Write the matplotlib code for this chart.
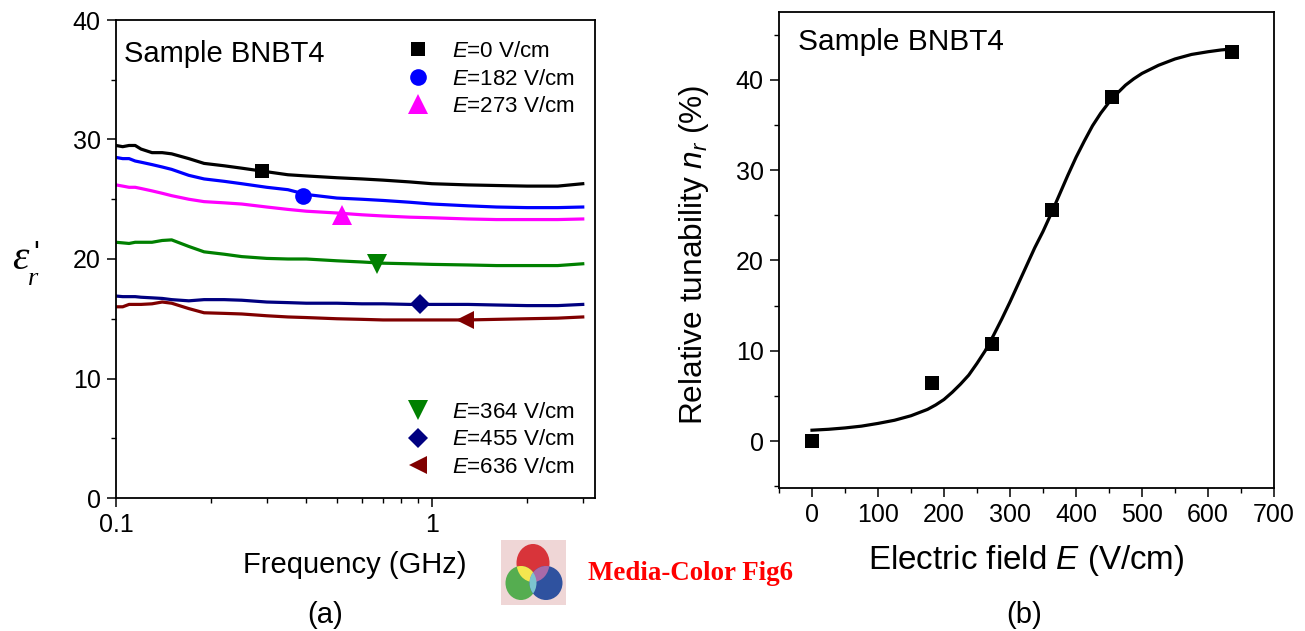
"""BNBT4 permittivity vs frequency (a) and relative tunability vs field (b)."""
import matplotlib
matplotlib.use("Agg")
import matplotlib.pyplot as plt
from matplotlib.lines import Line2D
from matplotlib.patches import Ellipse
from matplotlib.ticker import NullFormatter

W, H = 1305, 631
plt.rcParams["font.family"] = ["Liberation Sans", "DejaVu Sans"]
plt.rcParams["mathtext.fontset"] = "custom"
plt.rcParams["mathtext.rm"] = "Liberation Sans"
plt.rcParams["mathtext.it"] = "Liberation Sans:italic"
plt.rcParams["mathtext.bf"] = "Liberation Sans:bold"

freq = [0.1, 0.105, 0.11, 0.115, 0.12, 0.13, 0.14, 0.15, 0.17, 0.19, 0.22, 0.25, 0.3,
        0.35, 0.4, 0.5, 0.6, 0.7, 0.85, 1, 1.3, 1.6, 2, 2.5, 3]
eps_0 = [29.5, 29.4, 29.5, 29.5, 29.2, 28.9, 28.9, 28.8, 28.4, 28.0, 27.8, 27.6, 27.3,
         27.05, 26.95, 26.8, 26.7, 26.6, 26.45, 26.3, 26.2, 26.15, 26.1, 26.1, 26.3]
eps_182 = [28.5, 28.4, 28.4, 28.2, 28.1, 27.9, 27.7, 27.5, 27.0, 26.7, 26.5, 26.3, 26.0,
           25.8, 25.4, 25.1, 25.0, 24.9, 24.75, 24.6, 24.45, 24.35, 24.3, 24.3, 24.35]
eps_273 = [26.2, 26.1, 26.0, 26.0, 25.9, 25.7, 25.5, 25.3, 25.0, 24.8, 24.7, 24.6, 24.35,
           24.15, 24.0, 23.85, 23.7, 23.6, 23.5, 23.45, 23.35, 23.3, 23.3, 23.3, 23.35]
eps_364 = [21.4, 21.35, 21.3, 21.4, 21.4, 21.4, 21.55, 21.6, 21.05, 20.6, 20.4, 20.2, 20.05,
           20.0, 20.0, 19.85, 19.75, 19.65, 19.6, 19.55, 19.5, 19.45, 19.45, 19.45, 19.6]
eps_455 = [16.9, 16.85, 16.85, 16.85, 16.8, 16.75, 16.7, 16.6, 16.5, 16.6, 16.6, 16.55, 16.4,
           16.35, 16.3, 16.3, 16.25, 16.25, 16.2, 16.2, 16.2, 16.15, 16.1, 16.1, 16.2]
eps_636 = [16.0, 16.0, 16.2, 16.2, 16.2, 16.25, 16.4, 16.3, 15.85, 15.5, 15.45, 15.4, 15.25,
           15.15, 15.1, 15.0, 14.95, 14.9, 14.9, 14.9, 14.9, 14.95, 15.0, 15.05, 15.15]
marker_freq = [0.29, 0.39, 0.52, 0.67, 0.915, 1.27]
marker_eps = [27.4, 25.3, 23.7, 19.6, 16.2, 14.9]
series_labels = ["0", "182", "273", "364", "455", "636"]

field = [0, 182, 273, 364, 455, 636]
tunability = [0, 6.4, 10.7, 25.6, 38.1, 43.1]
fit_field = [0, 25, 50, 75, 100, 125, 150, 175, 187.5, 200, 212.5, 225, 237.5, 250, 262.5,
             275, 287.5, 300, 312.5, 325, 337.5, 350, 362.5, 375, 387.5, 400, 412.5, 425,
             437.5, 450, 462.5, 475, 487.5, 500, 525, 550, 575, 600, 620, 636]
fit_tun = [1.2, 1.3, 1.45, 1.65, 1.95, 2.3, 2.8, 3.5, 4.0, 4.6, 5.4, 6.3, 7.3, 8.6, 10.0,
           11.7, 13.5, 15.4, 17.4, 19.4, 21.4, 23.2, 25.2, 27.3, 29.4, 31.4, 33.2, 34.9,
           36.3, 37.5, 38.5, 39.4, 40.1, 40.7, 41.6, 42.3, 42.8, 43.1, 43.3, 43.4]

colors = ["black", "#0000ff", "#ff00ff", "#008000", "#000080", "#800000"]
markers = ["s", "o", "^", "v", "D", "<"]
sizes = [10, 12, 14, 14, 9.7, 13]


def ax_box(left, top, right, bottom):
    return [left / W, 1 - bottom / H, (right - left) / W, (bottom - top) / H]


def label(x, y, s, **kw):
    kw.setdefault("ha", "center")
    kw.setdefault("va", "center")
    return fig.text(x / W, 1 - y / H, s, **kw)


def style(ax, size):
    for s in ax.spines.values():
        s.set_linewidth(1.3)
    ax.tick_params(which="major", length=6.5, width=1.1, labelsize=size, pad=4.5)
    ax.tick_params(which="minor", length=3.5, width=1.0)


fig = plt.figure(figsize=(W / 100, H / 100), dpi=100)

# (a)
ax = fig.add_axes(ax_box(116, 20, 595, 498))
all_eps = [eps_0, eps_182, eps_273, eps_364, eps_455, eps_636]
for vals, c in zip(all_eps, colors):
    ax.plot(freq, vals, color=c, lw=2.3)
for i in range(6):
    ax.plot(marker_freq[i], marker_eps[i], marker=markers[i], color=colors[i],
            ms=sizes[i], ls="none", mew=0, zorder=5)
ax.set_xscale("log")
ax.set_xlim(0.1, 3.28)
ax.set_ylim(0, 40)
ax.set_yticks([0, 10, 20, 30, 40])
ax.set_yticks([5, 15, 25, 35], minor=True)
ax.set_xticks([0.1, 1])
ax.set_xticklabels(["0.1", "1"])
ax.xaxis.set_minor_formatter(NullFormatter())
style(ax, 18)

handles = [Line2D([], [], marker=markers[i], color=colors[i], ms=sizes[i], ls="none", mew=0,
                  label=rf"$\mathit{{E}}$=${series_labels[i]}$ V/cm") for i in range(6)]
leg_kw = dict(frameon=False, fontsize=16.1, labelspacing=0.29, handlelength=1.6,
              handletextpad=0.72, borderpad=0, borderaxespad=0)
leg_top = ax.legend(handles=handles[:3], loc="upper left", bbox_to_anchor=(0.593, 0.956), **leg_kw)
ax.add_artist(leg_top)
ax.legend(handles=handles[3:], loc="lower left", bbox_to_anchor=(0.593, 0.042), **leg_kw)

label(124, 54, "Sample BNBT4", fontsize=21, ha="left")
label(20, 259, "\u03b5", fontsize=30, style="italic", family="Liberation Serif")
label(33, 279, "r", fontsize=19, style="italic", family="Liberation Serif")
label(36, 255, "'", fontsize=22)
label(355, 565, "Frequency (GHz)", fontsize=21)
label(325, 615, "(a)", fontsize=21)

# colour wheel badge
logo = fig.add_axes(ax_box(501, 540, 566, 605))
logo.set_xlim(501, 566)
logo.set_ylim(605, 540)
logo.set_facecolor("#efd6d6")
logo.set_xticks([])
logo.set_yticks([])
for s in logo.spines.values():
    s.set_visible(False)
red = Ellipse((533, 563), 33, 38, color="#d8343a", lw=0)
green = Ellipse((521, 583), 31, 34, color="#55ad50", lw=0)
blue = Ellipse((546, 583), 33, 34, color="#2f529f", lw=0)
for e in (red, green, blue):
    logo.add_patch(e)
rg = logo.add_patch(Ellipse((521, 583), 31, 34, color="#f4e64f", lw=0))
rg.set_clip_path(red)
rb = logo.add_patch(Ellipse((546, 583), 33, 34, color="#a86aa8", lw=0))
rb.set_clip_path(red)
gb = logo.add_patch(Ellipse((546, 583), 33, 34, color="#7cc4cf", lw=0))
gb.set_clip_path(green)
label(690, 574, "Media-Color Fig6", fontsize=19.4, color="#ff0000", weight="bold", family="Liberation Serif")

# (b)
ax2 = fig.add_axes(ax_box(779, 12, 1274, 488))
ax2.plot(fit_field, fit_tun, color="black", lw=2.3)
ax2.plot(field, tunability, "s", color="black", ms=9.5, mew=0, zorder=5)
ax2.set_xlim(-50, 700)
ax2.set_ylim(-5.2, 47.5)
ax2.set_xticks(range(0, 701, 100))
ax2.set_xticks(range(-50, 700, 100), minor=True)
ax2.set_yticks([0, 10, 20, 30, 40])
ax2.set_yticks([-5, 5, 15, 25, 35, 45], minor=True)
style(ax2, 18)

label(798, 42, "Sample BNBT4", fontsize=21.5, ha="left")
label(1026, 561, r"Electric field $\mathit{E}$ (V/cm)", fontsize=23.9)
label(694, 255, r"Relative tunability $\mathit{n}_{\mathit{r}}$ (%)", fontsize=22.8, rotation=90)
label(1024, 615, "(b)", fontsize=21)

fig.savefig("out.png", dpi=100)
